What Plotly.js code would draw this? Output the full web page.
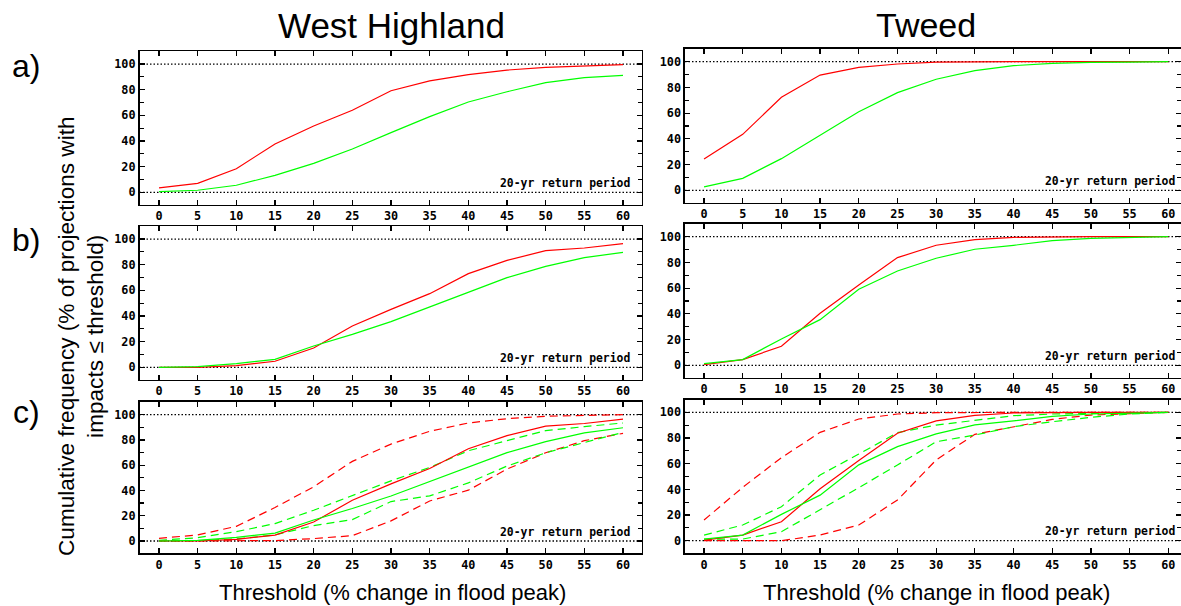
<!DOCTYPE html>
<html>
<head>
<meta charset="utf-8">
<script src="https://cdn.plot.ly/plotly-3.0.1.min.js"></script>
<style>html,body{margin:0;padding:0;background:#fff;}#chart{width:1181px;height:606px;}</style>
</head>
<body>
<div id="chart"></div>
<script>
// ---- data ----
var thresholds = [0, 5, 10, 15, 20, 25, 30, 35, 40, 45, 50, 55, 60];
var yTickValues = [0, 20, 40, 60, 80, 100];
var columnTitles = ["West Highland", "Tweed"];
var rowLabels = ["a)", "b)", "c)"];
var annotationText = "20-yr return period";
var xTitle = "Threshold (% change in flood peak)";
var yTitle = "Cumulative frequency (% of projections with<br>impacts \u2264 threshold)";

// row a
var whA_red   = [3.4, 7, 18.4, 37.7, 51.7, 64, 79.2, 86.8, 91.7, 95.3, 97.4, 98.7, 99.5];
var whA_green = [0.5, 1.6, 5.5, 13.2, 22.6, 33.8, 46.5, 59, 70.4, 78.4, 85.5, 89.4, 91.2];
var twA_red   = [24.4, 43.5, 72.3, 89.6, 95.6, 98.2, 99.7, 100, 100, 100, 100, 100, 100];
var twA_green = [2.6, 9.3, 24.6, 43, 61.1, 75.9, 86.3, 93, 96.9, 98.7, 99.5, 99.7, 100];
// row b
var whB_red   = [0, 0, 1.3, 4.7, 15, 32.2, 45.2, 57.4, 73, 83.4, 90.9, 93, 96.4];
var whB_green = [0, 0.5, 2.9, 6.2, 16.6, 25.7, 35.6, 47, 58.4, 69.9, 78.7, 85.5, 89.6];
var twB_red   = [0.5, 4.4, 14.8, 40.4, 62.4, 83.7, 93.3, 97.7, 99.5, 100, 100, 100, 100];
var twB_green = [1.3, 4.4, 20.5, 35.5, 59.1, 73.3, 83.2, 90.2, 93.3, 96.9, 98.7, 99.5, 100];
// row c (solid = row b medians, dashed = bounds)
var whC_redHi   = [2.1, 4.8, 11.6, 26.5, 42.9, 63, 76.7, 86.8, 93.4, 96.8, 98.7, 99.5, 100];
var whC_redLo   = [0, 0, 0, 0.3, 1.9, 4.2, 15.9, 31.7, 40.2, 56.9, 69.8, 79.4, 85.2];
var whC_greenHi = [0.5, 2.6, 7.4, 13.8, 24.3, 35.7, 47.6, 58.2, 71.4, 79.4, 87.3, 90.5, 93.4];
var whC_greenLo = [0, 0.3, 1.6, 4.8, 12.2, 16.9, 31.2, 35.7, 46, 59.3, 69.8, 78, 86];
var twC_redHi   = [16.1, 41.6, 64.7, 84.4, 94.8, 98.7, 99.7, 100, 100, 100, 100, 100, 100];
var twC_redLo   = [0, 0, 0, 4.4, 12.2, 31.7, 62.9, 82.9, 88.8, 94.5, 97.9, 99.2, 100];
var twC_greenHi = [4.4, 12.2, 26.5, 51.2, 67.5, 84.2, 90.1, 94, 97.4, 98.7, 99.2, 99.7, 100];
var twC_greenLo = [1.3, 1.3, 7, 23.9, 41.3, 59, 77.1, 82.3, 88.8, 92.7, 96.1, 98.7, 100];

// ---- layout helpers ----
var W = 1181, H = 606;
var RED = "#ff0000", GREEN = "#00ff00";
var DASH = "8px,5px";
function px(x) { return x / W; }
function py(y) { return 1 - y / H; }

// panel geometry in pixels: [left, right, top, bottom]
var panels = [
  {L: 139.5, R: 641.5, T: 51.2, B: 204.5, xr: [-2.52, 62.39]},
  {L: 685,   R: 1181,  T: 48.8, B: 202.5, xr: [-2.46, 61.64]},
  {L: 139.5, R: 641.5, T: 226.2, B: 379.5, xr: [-2.52, 62.39]},
  {L: 685,   R: 1181,  T: 223.8, B: 377.5, xr: [-2.46, 61.64]},
  {L: 139.5, R: 641.5, T: 402, B: 553, xr: [-2.52, 62.39]},
  {L: 685,   R: 1181,  T: 399.5, B: 552.9, xr: [-2.46, 61.64]}
];

var seriesByPanel = [
  [[whA_red, RED, "solid"], [whA_green, GREEN, "solid"]],
  [[twA_red, RED, "solid"], [twA_green, GREEN, "solid"]],
  [[whB_red, RED, "solid"], [whB_green, GREEN, "solid"]],
  [[twB_red, RED, "solid"], [twB_green, GREEN, "solid"]],
  [[whC_redHi, RED, DASH], [whC_redLo, RED, DASH], [whC_greenHi, GREEN, DASH], [whC_greenLo, GREEN, DASH],
   [whB_red, RED, "solid"], [whB_green, GREEN, "solid"]],
  [[twC_redHi, RED, DASH], [twC_redLo, RED, DASH], [twC_greenHi, GREEN, DASH], [twC_greenLo, GREEN, DASH],
   [twB_red, RED, "solid"], [twB_green, GREEN, "solid"]]
];

var monoFamily = "DejaVu Sans Mono, Liberation Mono, monospace";
var tickFont = {family: monoFamily, size: 11.8, color: "#000", weight: "bold"};
var data = [];
var layout = {
  width: W, height: H,
  margin: {l: 0, r: 0, t: 0, b: 0, pad: 0},
  paper_bgcolor: "#fff", plot_bgcolor: "#fff",
  showlegend: false,
  shapes: [], annotations: []
};

panels.forEach(function (p, i) {
  var n = i + 1;
  var xa = "x" + (n === 1 ? "" : n), ya = "y" + (n === 1 ? "" : n);
  var xk = "xaxis" + (n === 1 ? "" : n), yk = "yaxis" + (n === 1 ? "" : n);
  layout[xk] = {
    domain: [px(p.L), px(p.R)], anchor: ya, range: p.xr,
    tickvals: thresholds, ticks: "inside", ticklen: 5, tickwidth: 1.2, tickcolor: "#000",
    showline: true, linewidth: 1.6, linecolor: "#000", mirror: "ticks",
    showgrid: false, zeroline: false, tickfont: tickFont, fixedrange: true
  };
  layout[yk] = {
    domain: [py(p.B), py(p.T)], anchor: xa, range: [-9.5, 110],
    tickvals: yTickValues, ticks: "inside", ticklen: 5, tickwidth: 1.2, tickcolor: "#000",
    minor: {dtick: 10, tick0: 0, ticks: "inside", ticklen: 4, tickcolor: "#000", tickwidth: 1.2},
    showline: true, linewidth: 1.6, linecolor: "#000", mirror: "ticks",
    showgrid: false, zeroline: false, tickfont: tickFont, fixedrange: true
  };
  [0, 100].forEach(function (v) {
    layout.shapes.push({type: "line", xref: xa + " domain", yref: ya, x0: 0, x1: 1, y0: v, y1: v,
      layer: "below", line: {color: "#000", width: 1.3, dash: "1.5px,2px"}});
  });
  seriesByPanel[i].forEach(function (s) {
    data.push({x: thresholds, y: s[0], xaxis: xa, yaxis: ya, type: "scatter", mode: "lines",
      line: {color: s[1], width: 1.2, dash: s[2]}, hoverinfo: "skip"});
  });
  layout.annotations.push({text: annotationText, xref: xa, yref: ya, x: 61.1, y: 7.5,
    xanchor: "right", yanchor: "middle", showarrow: false,
    font: {family: monoFamily, size: 11.4, color: "#000", weight: "bold"}});
});

var bigFont = "Liberation Sans, Arial, sans-serif";
layout.annotations.push({text: columnTitles[0], xref: "paper", yref: "paper", x: px(391), y: py(25),
  xanchor: "center", yanchor: "middle", showarrow: false, font: {family: bigFont, size: 35, color: "#000"}});
layout.annotations.push({text: columnTitles[1], xref: "paper", yref: "paper", x: px(926), y: py(25),
  xanchor: "center", yanchor: "middle", showarrow: false, font: {family: bigFont, size: 34, color: "#000"}});
[[66], [240], [412]].forEach(function (r, k) {
  layout.annotations.push({text: rowLabels[k], xref: "paper", yref: "paper", x: px(26), y: py(r[0]),
    xanchor: "center", yanchor: "middle", showarrow: false, font: {family: bigFont, size: 32, color: "#000"}});
});
layout.annotations.push({text: yTitle, xref: "paper", yref: "paper", x: px(81), y: py(336),
  xanchor: "center", yanchor: "middle", textangle: -90, showarrow: false,
  font: {family: bigFont, size: 22.6, color: "#000"}});
layout.annotations.push({text: xTitle, xref: "paper", yref: "paper", x: px(392), y: py(592),
  xanchor: "center", yanchor: "middle", showarrow: false, font: {family: bigFont, size: 22, color: "#000"}});
layout.annotations.push({text: xTitle, xref: "paper", yref: "paper", x: px(936), y: py(592),
  xanchor: "center", yanchor: "middle", showarrow: false, font: {family: bigFont, size: 22, color: "#000"}});

Plotly.newPlot("chart", data, layout, {displayModeBar: false, staticPlot: true});
</script>
</body>
</html>
